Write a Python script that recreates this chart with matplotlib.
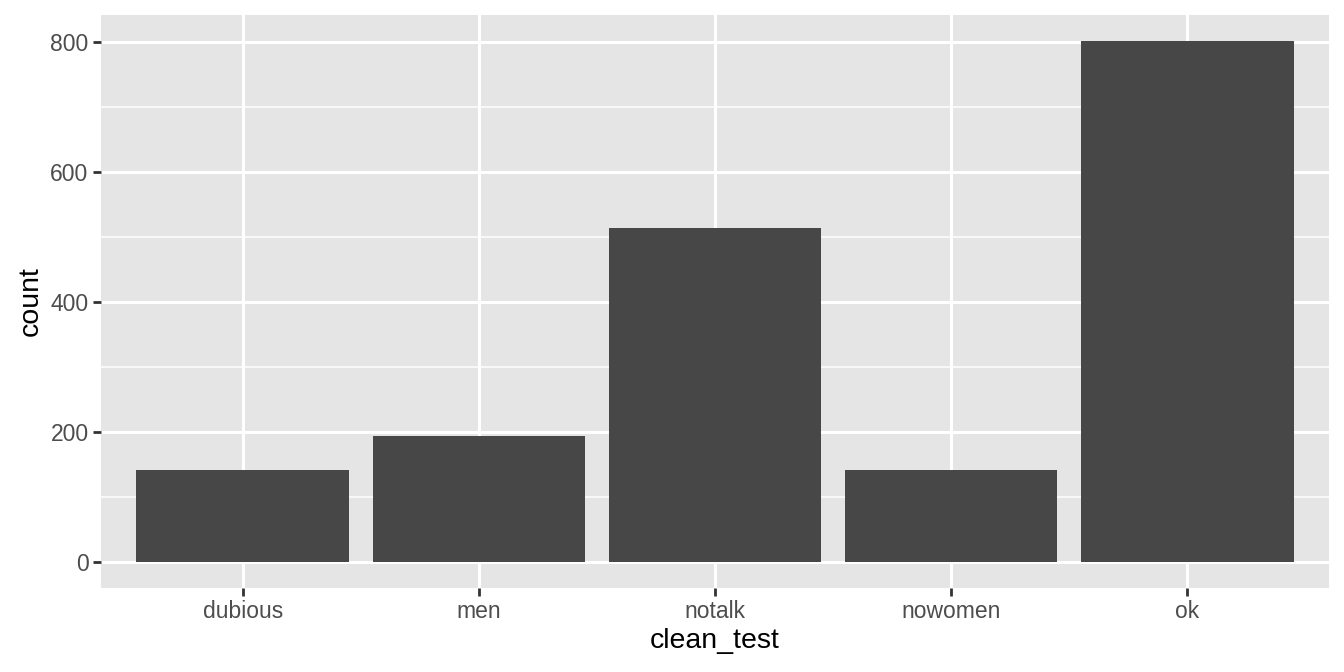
import numpy as np
import matplotlib
matplotlib.use('Agg')
from matplotlib import pyplot as plt

# values
categories = ['dubious', 'men', 'notalk', 'nowomen', 'ok']
counts = [142, 194, 514, 142, 802]
y_ticks = [0, 200, 400, 600, 800]

plt.rcParams['font.family'] = ['Liberation Sans', 'DejaVu Sans']

fig = plt.figure(figsize=(13.44, 6.72), dpi=100)
ax = fig.add_axes([101 / 1344, 84 / 672, (1329 - 101) / 1344, (588 - 14.6) / 672])

x = np.arange(1, len(categories) + 1)
ax.bar(x, counts, width=0.9, color='#474747', zorder=3)

ax.set_facecolor('#E5E5E5')
ax.set_xlim(0.4, 5.6)
top = max(counts) * 1.05
ax.set_ylim(-max(counts) * 0.05, top)

ax.set_xticks(x)
ax.set_xticklabels(categories)
ax.set_yticks(y_ticks)
ax.set_yticks([100, 300, 500, 700], minor=True)

ax.grid(which='major', color='white', linewidth=2.2, zorder=1)
ax.grid(which='minor', axis='y', color='white', linewidth=1.1, zorder=1)
ax.set_axisbelow(True)

for s in ax.spines.values():
    s.set_visible(False)

ax.tick_params(axis='both', which='major', length=6, width=2, color='#333333',
               labelcolor='#4D4D4D', labelsize=16.5, pad=3)
ax.tick_params(axis='both', which='minor', length=0)

ax.set_xlabel('clean_test', fontsize=20.5, color='black', labelpad=3)
ax.set_ylabel('count', fontsize=20.5, color='black', labelpad=5)

fig.savefig('out.png', dpi=100)
